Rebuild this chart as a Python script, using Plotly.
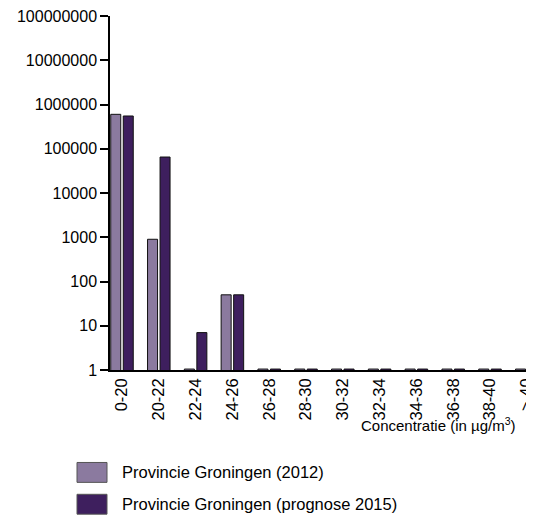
import plotly.graph_objects as go

# Concentratie klassen (µg/m3)
categories = ['0-20', '20-22', '22-24', '24-26', '26-28', '28-30',
              '30-32', '32-34', '34-36', '36-38', '38-40', '> 40']

groningen_2012 = [600000, 900, 1.05, 50, 1.05, 1.05, 1.05, 1.05, 1.05, 1.05, 1.05, 1.05]
groningen_2015 = [550000, 65000, 7, 50, 1.05, 1.05, 1.05, 1.05, 1.05, 1.05, 1.05, 1.05]

series_names = ['Provincie Groningen (2012)', 'Provincie Groningen (prognose 2015)']
series_colors = ['#8b7a9f', '#3e1f5e']

y_tickvals = [1, 10, 100, 1000, 10000, 100000, 1000000, 10000000, 100000000]
y_ticktext = ['1', '10', '100', '1000', '10000', '100000', '1000000', '10000000', '100000000']

# page body has an 8px margin, so figure coords = window coords - 8
OFF = 8
W, H = 534, 522
L, R, T, B = 110 - OFF, 0, 14 - OFF, H - (370 - OFF)
FONT = 'Liberation Sans, Arial, sans-serif'


def px_x(px):
    # window pixel -> paper x
    return (px - OFF - L) / (W - L - R)


def px_y(py):
    # window pixel -> paper y
    return (H - B - (py - OFF)) / (H - B - T)


fig = go.Figure()
for name, vals, col in zip(series_names, [groningen_2012, groningen_2015], series_colors):
    fig.add_trace(go.Bar(x=categories, y=vals, name=name,
                         marker=dict(color=col, line=dict(color='#111111', width=1)),
                         showlegend=False))

# legend drawn by hand (large boxes)
shapes = []
annotations = []
for i, (name, col) in enumerate(zip(series_names, series_colors)):
    y0 = 463 + i * 32
    shapes.append(dict(type='rect', xref='paper', yref='paper',
                       x0=px_x(77), x1=px_x(107), y0=px_y(y0), y1=px_y(y0 + 20),
                       fillcolor=col, line=dict(color='#555555', width=1)))
    annotations.append(dict(text=name, xref='paper', yref='paper',
                            x=px_x(120), y=px_y(y0 + 10), xanchor='left', yanchor='middle',
                            showarrow=False, font=dict(size=16.5, color='black', family=FONT)))

annotations.append(dict(text='Concentratie (in µg/m<sup>3</sup>)', xref='paper', yref='paper',
                        x=px_x(518), y=px_y(425), xanchor='right', yanchor='middle',
                        showarrow=False, font=dict(size=15, color='black', family=FONT)))

# plot area 102..534 in figure px, 36.8 px per category, first centre at window x 122
plot_w = W - L - R
x0 = -(122 - 110) / 36.8
fig.update_layout(
    width=W, height=H, autosize=False,
    margin=dict(l=L, r=R, t=T, b=B),
    paper_bgcolor='white', plot_bgcolor='white',
    barmode='group', bargap=0.32, bargroupgap=0.2,
    font=dict(family=FONT, size=16, color='black'),
    shapes=shapes, annotations=annotations,
)
fig.update_xaxes(type='category', range=[x0, x0 + plot_w / 36.8],
                 showline=True, linecolor='black', linewidth=1.5,
                 ticks='', tickangle=-90, tickfont=dict(size=16.5),
                 showgrid=False, zeroline=False)
fig.update_yaxes(type='log', range=[0, 8],
                 tickvals=y_tickvals, ticktext=y_ticktext, ticklabeloverflow='allow',
                 showline=True, linecolor='black', linewidth=1.5,
                 ticks='outside', ticklen=8, tickcolor='black', tickwidth=1.5,
                 tickfont=dict(size=16), showgrid=False, zeroline=False)

fig.write_html('out.html')
